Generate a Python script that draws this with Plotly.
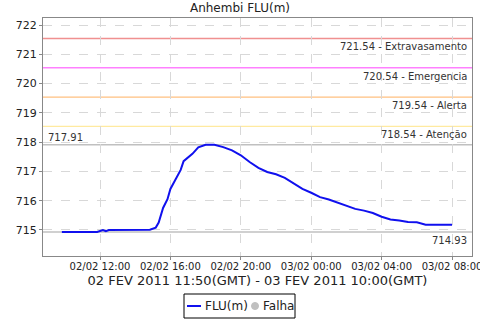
import plotly.graph_objects as go

# ---- data ----
times = ["2011-02-02 09:50", "2011-02-02 10:30", "2011-02-02 11:10", "2011-02-02 11:50",
         "2011-02-02 12:10", "2011-02-02 12:20", "2011-02-02 12:30", "2011-02-02 13:30",
         "2011-02-02 14:30", "2011-02-02 14:50", "2011-02-02 15:10", "2011-02-02 15:20",
         "2011-02-02 15:35", "2011-02-02 15:50", "2011-02-02 16:00", "2011-02-02 16:20",
         "2011-02-02 16:35", "2011-02-02 16:45", "2011-02-02 17:00", "2011-02-02 17:15",
         "2011-02-02 17:35", "2011-02-02 18:00", "2011-02-02 18:30", "2011-02-02 19:00",
         "2011-02-02 19:30", "2011-02-02 20:00", "2011-02-02 20:30", "2011-02-02 21:00",
         "2011-02-02 21:30", "2011-02-02 22:00", "2011-02-02 22:30", "2011-02-02 23:00",
         "2011-02-02 23:30", "2011-02-03 00:00", "2011-02-03 00:30", "2011-02-03 01:00",
         "2011-02-03 01:30", "2011-02-03 02:00", "2011-02-03 02:30", "2011-02-03 03:00",
         "2011-02-03 03:30", "2011-02-03 04:00", "2011-02-03 04:30", "2011-02-03 05:00",
         "2011-02-03 05:30", "2011-02-03 06:00", "2011-02-03 06:30", "2011-02-03 07:00",
         "2011-02-03 08:00"]
levels = [714.93, 714.93, 714.93, 714.93,
          715.00, 714.96, 715.00, 715.00,
          715.00, 715.01, 715.08, 715.25,
          715.75, 716.05, 716.40, 716.75,
          717.05, 717.35, 717.47, 717.60,
          717.82, 717.91, 717.91, 717.83,
          717.72, 717.55, 717.32, 717.12,
          716.98, 716.90, 716.78, 716.58,
          716.40, 716.27, 716.12, 716.04,
          715.94, 715.84, 715.72, 715.66,
          715.58, 715.45, 715.36, 715.32,
          715.27, 715.26, 715.18, 715.18,
          715.18]

threshold_values = [721.54, 720.54, 719.54, 718.54]
threshold_names = ["Extravasamento", "Emergencia", "Alerta", "Atenção"]
threshold_colors = ["#f09090", "#ff80ff", "#ffc080", "#ffeaa0"]

max_value = 717.91
min_value = 714.93

x_ticks = ["2011-02-02 12:00", "2011-02-02 16:00", "2011-02-02 20:00",
           "2011-02-03 00:00", "2011-02-03 04:00", "2011-02-03 08:00"]
x_tick_labels = ["02/02 12:00", "02/02 16:00", "02/02 20:00",
                 "03/02 00:00", "03/02 04:00", "03/02 08:00"]
y_ticks = [715, 716, 717, 718, 719, 720, 721, 722]

title = "Anhembi FLU(m)"
x_title = "02 FEV 2011 11:50(GMT) - 03 FEV 2011 10:00(GMT)"
legend_names = ["FLU(m)", "Falha"]
line_color = "#1010ee"
falha_color = "#c0c0c0"

FONT = "DejaVu Sans"
TXT = "#222222"

# plot area geometry (pixels)
L, R, T, B = 43, 8, 18, 64
W, H = 480, 320
PW, PH = W - L - R, H - T - B


def px(x):
    return (x - L) / PW


def py(y):
    return 1 - (y - T) / PH


fig = go.Figure()
fig.add_trace(go.Scatter(x=times, y=levels, mode="lines", name=legend_names[0],
                         line=dict(color=line_color, width=2), showlegend=False))

shapes = []
annotations = []
for v, n, c in zip(threshold_values, threshold_names, threshold_colors):
    shapes.append(dict(type="line", xref="paper", x0=0, x1=1, yref="y", y0=v, y1=v,
                       line=dict(color=c, width=1.3), layer="below"))
    annotations.append(dict(xref="paper", x=0.993, yref="y", y=v, text=f"{v:.2f} - {n}",
                            showarrow=False, xanchor="right", yanchor="top", yshift=-1,
                            font=dict(family=FONT, size=10, color="#333333")))
for v in (max_value, min_value):
    shapes.append(dict(type="line", xref="paper", x0=0, x1=1, yref="y", y0=v, y1=v,
                       line=dict(color="#c0c0c0", width=1.3), layer="below"))
annotations.append(dict(xref="paper", x=0.007, yref="y", y=max_value, text=f"{max_value:.2f}",
                        showarrow=False, xanchor="left", yanchor="bottom",
                        font=dict(family=FONT, size=10, color="#333333")))
annotations.append(dict(xref="paper", x=0.993, yref="y", y=min_value, text=f"{min_value:.2f}",
                        showarrow=False, xanchor="right", yanchor="top", yshift=-1,
                        font=dict(family=FONT, size=10, color="#333333")))

# manual legend
shapes.append(dict(type="rect", xref="paper", yref="paper",
                   x0=px(184), x1=px(295), y0=py(294), y1=py(318),
                   line=dict(color="black", width=1), fillcolor="white"))
shapes.append(dict(type="line", xref="paper", yref="paper",
                   x0=px(187), x1=px(201), y0=py(306), y1=py(306),
                   line=dict(color=line_color, width=2)))
shapes.append(dict(type="circle", xref="paper", yref="paper",
                   x0=px(251.5), x1=px(258.5), y0=py(302.5), y1=py(309.5),
                   line=dict(color=falha_color, width=1), fillcolor=falha_color))
annotations.append(dict(xref="paper", yref="paper", x=px(203), y=py(306),
                        text=legend_names[0], showarrow=False, xanchor="left", yanchor="middle",
                        font=dict(family=FONT, size=12, color=TXT)))
annotations.append(dict(xref="paper", yref="paper", x=px(261), y=py(306),
                        text=legend_names[1], showarrow=False, xanchor="left", yanchor="middle",
                        font=dict(family=FONT, size=12, color=TXT)))

fig.update_layout(
    width=W, height=H,
    margin=dict(l=L, r=R, t=T, b=B, autoexpand=False),
    paper_bgcolor="white", plot_bgcolor="white",
    font=dict(family=FONT, color=TXT),
    title=dict(text=title, x=0.5, xanchor="center", y=0.975, yanchor="middle",
               font=dict(family=FONT, size=12, color=TXT)),
    shapes=shapes, annotations=annotations,
    showlegend=False,
)
fig.update_xaxes(
    range=["2011-02-02 08:45:42", "2011-02-03 09:08:00"],
    tickvals=x_ticks, ticktext=x_tick_labels, ticklabeloverflow="allow",
    ticklabelstandoff=-2,
    tickfont=dict(family=FONT, size=10, color=TXT),
    showgrid=True, gridcolor="#d8d8d8", griddash="dash", gridwidth=1,
    showline=True, linecolor="#888888", linewidth=1, mirror=True,
    ticks="outside", ticklen=3, tickcolor="#888888",
    title=dict(text=x_title, font=dict(family=FONT, size=13, color=TXT), standoff=4),
    zeroline=False, automargin=False,
)
fig.update_yaxes(
    range=[714.11, 722.24],
    tickvals=y_ticks, ticktext=[str(t) for t in y_ticks],
    tickfont=dict(family=FONT, size=11, color=TXT),
    showgrid=True, gridcolor="#d8d8d8", griddash="dash", gridwidth=1,
    showline=True, linecolor="#888888", linewidth=1, mirror=True,
    ticks="outside", ticklen=3, tickcolor="#888888",
    zeroline=False, automargin=False,
)

fig.write_html("out.html")
